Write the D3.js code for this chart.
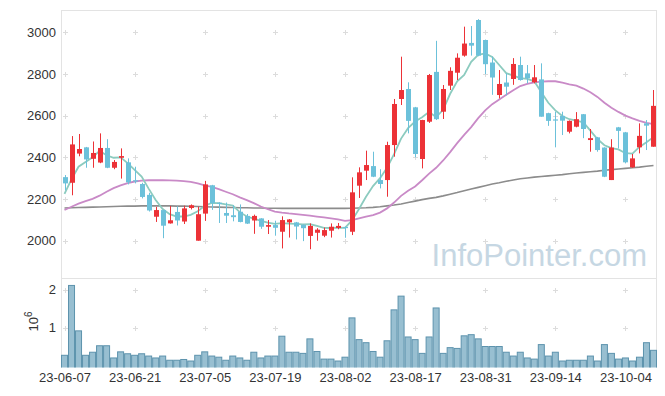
<!DOCTYPE html>
<html>
<head>
<meta charset="utf-8">
<script src="https://cdn.jsdelivr.net/npm/d3@7"></script>
<style>
  body { margin: 0; background: #fff; }
  svg { display: block; font-family: "Liberation Sans", Arial, sans-serif; }
</style>
</head>
<body>
<div id="chart"></div>
<script>
// trading days
var dates = ["23-06-07","23-06-08","23-06-09","23-06-12","23-06-13","23-06-14","23-06-15","23-06-16","23-06-19","23-06-20",
  "23-06-21","23-06-22","23-06-23","23-06-26","23-06-27","23-06-28","23-06-29","23-06-30","23-07-03","23-07-04",
  "23-07-05","23-07-06","23-07-07","23-07-10","23-07-11","23-07-12","23-07-13","23-07-14","23-07-17","23-07-18",
  "23-07-19","23-07-20","23-07-21","23-07-24","23-07-25","23-07-26","23-07-27","23-07-28","23-07-31","23-08-01",
  "23-08-02","23-08-03","23-08-04","23-08-07","23-08-08","23-08-09","23-08-10","23-08-11","23-08-14","23-08-16",
  "23-08-17","23-08-18","23-08-21","23-08-22","23-08-23","23-08-24","23-08-25","23-08-28","23-08-29","23-08-30",
  "23-08-31","23-09-01","23-09-04","23-09-05","23-09-06","23-09-07","23-09-08","23-09-11","23-09-12","23-09-13",
  "23-09-14","23-09-15","23-09-18","23-09-19","23-09-20","23-09-21","23-09-22","23-09-25","23-09-26","23-09-27",
  "23-10-04","23-10-05","23-10-06","23-10-10","23-10-11"];

var openP = [2305,2278,2418,2448,2393,2375,2445,2350,2398,2376,
  2290,2272,2220,2115,2147,2083,2138,2092,2157,2000,
  2130,2266,2182,2133,2122,2139,2119,2097,2107,2067,
  2075,2043,2088,2088,2076,2023,2038,2024,2048,2061,
  2066,2043,2264,2336,2358,2291,2291,2459,2680,2728,
  2640,2392,2571,2810,2619,2744,2806,2888,2949,3059,
  2963,2855,2699,2759,2776,2843,2803,2760,2774,2612,
  2582,2599,2523,2547,2607,2483,2496,2447,2291,2544,
  2520,2352,2448,2563,2451];

var highP = [2315,2502,2512,2450,2476,2515,2487,2387,2443,2395,
  2355,2278,2230,2162,2148,2167,2165,2168,2174,2163,
  2287,2268,2185,2183,2170,2174,2128,2125,2108,2099,
  2096,2117,2104,2090,2078,2083,2060,2063,2083,2085,
  2067,2304,2352,2432,2427,2343,2475,2680,2883,2760,
  2642,2580,2800,2959,2747,2832,2899,3027,3030,3063,
  2965,2883,2819,2803,2876,2883,2843,2843,2851,2614,
  2619,2619,2577,2617,2608,2536,2498,2448,2487,2546,
  2522,2416,2563,2579,2723];

var lowP = [2242,2218,2405,2350,2350,2372,2348,2343,2298,2270,
  2275,2203,2140,2090,2012,2082,2073,2080,2150,2000,
  2095,2148,2085,2085,2093,2088,2080,2033,2057,2032,
  2024,1963,2015,2006,1998,1959,2000,2017,2015,2055,
  2014,2027,2205,2291,2305,2251,2211,2403,2651,2515,
  2400,2347,2565,2579,2584,2723,2771,2883,2888,2885,
  2799,2700,2683,2697,2748,2768,2755,2755,2595,2551,
  2448,2507,2515,2544,2492,2427,2427,2305,2291,2443,
  2371,2350,2419,2435,2451];

var closeP = [2275,2462,2440,2390,2421,2445,2350,2378,2406,2280,
  2285,2210,2145,2147,2072,2098,2097,2155,2170,2127,
  2270,2180,2176,2120,2113,2090,2082,2119,2067,2075,
  2062,2099,2102,2068,2060,2071,2053,2051,2067,2071,
  2063,2232,2328,2363,2307,2272,2459,2656,2723,2575,
  2416,2579,2795,2583,2728,2815,2878,2946,2936,2888,
  2847,2783,2752,2739,2848,2771,2779,2784,2595,2575,
  2577,2576,2575,2583,2536,2492,2435,2307,2447,2527,
  2376,2395,2503,2552,2647];

var volume = [280000,2110000,920000,280000,360000,530000,530000,210000,370000,320000,
  280000,320000,260000,210000,260000,150000,150000,170000,130000,280000,
  370000,260000,230000,150000,260000,210000,150000,360000,210000,260000,
  260000,780000,360000,360000,330000,710000,380000,180000,180000,130000,
  230000,1260000,690000,610000,380000,230000,660000,1470000,1830000,760000,
  690000,330000,760000,1520000,330000,480000,460000,790000,820000,710000,
  510000,510000,510000,360000,260000,360000,210000,180000,560000,260000,
  360000,130000,150000,150000,150000,260000,130000,560000,330000,180000,
  210000,130000,230000,610000,410000];

// moving averages
var ma5 = [2225,2295,2355,2378,2400,2431,2410,2398,2400,2372,
  2340,2308,2250,2195,2152,2127,2116,2116,2124,2141,
  2168,2181,2180,2174,2169,2137,2116,2106,2095,2087,
  2081,2084,2082,2081,2078,2079,2071,2062,2061,2063,
  2062,2097,2152,2211,2262,2300,2350,2415,2490,2540,
  2572,2592,2618,2593,2628,2705,2765,2795,2858,2892,
  2899,2882,2843,2804,2792,2780,2776,2765,2712,2662,
  2625,2598,2583,2576,2568,2528,2488,2458,2444,2438,
  2420,2418,2450,2472,2497];

var ma20 = [2147,2163,2178,2190,2201,2216,2235,2252,2265,2276,
  2284,2288,2290,2290,2290,2289,2288,2286,2282,2275,
  2266,2258,2247,2235,2223,2208,2195,2180,2164,2151,
  2140,2135,2131,2128,2124,2120,2116,2112,2107,2102,
  2095,2099,2107,2115,2123,2135,2155,2183,2215,2240,
  2260,2290,2322,2350,2385,2425,2468,2508,2545,2588,
  2625,2655,2678,2700,2722,2742,2752,2760,2763,2765,
  2765,2758,2750,2744,2730,2712,2690,2662,2638,2618,
  2600,2587,2575,2565,2559];

var ma120 = [2157,2158,2159,2160,2161,2162,2163,2164,2165,2166,
  2166,2167,2167,2167,2167,2167,2166,2166,2165,2164,
  2163,2162,2161,2160,2159,2158,2158,2157,2157,2156,
  2156,2155,2155,2155,2155,2155,2155,2155,2155,2155,
  2155,2156,2157,2158,2160,2163,2167,2171,2176,2183,
  2190,2197,2203,2208,2215,2223,2231,2240,2248,2256,
  2264,2272,2278,2285,2291,2297,2301,2305,2308,2311,
  2314,2317,2321,2325,2328,2331,2334,2338,2341,2344,
  2347,2350,2353,2357,2361];

var priceTicks = [2000, 2200, 2400, 2600, 2800, 3000];
var volumeTicks = [1000000, 2000000];
var dateTicks = ["23-06-07","23-06-21","23-07-05","23-07-19","23-08-02","23-08-17","23-08-31","23-09-14","23-10-04"];

var width = 665,
    height = 396;

var left = 61, right = 657,
    top1 = 10, bottom1 = 278,
    top2 = 278, bottom2 = 367.5;

var upColor = "#ec3237",
    downColor = "#6cc1da";

var svg = d3.select("#chart")
  .append("svg")
    .attr("width", width)
    .attr("height", height);

var x = d3.scalePoint()
  .domain(dates)
  .range([left, right])
  .padding(0.5);

var y = d3.scaleLinear()
  .domain([1821, 3107])
  .range([bottom1, top1]);

var yv = d3.scaleLinear()
  .domain([-40000, 2305000])
  .range([bottom2, top2]);

var step = x.step();

svg.append("defs").append("clipPath").attr("id", "clipMain")
  .append("rect").attr("x", left).attr("y", top1).attr("width", right - left).attr("height", bottom1 - top1);
svg.select("defs").append("clipPath").attr("id", "clipVol")
  .append("rect").attr("x", left).attr("y", top2).attr("width", right - left).attr("height", bottom2 - top2);

// panel frames
var frame = svg.append("g").attr("stroke", "#e3e3e3").attr("fill", "none");
frame.append("line").attr("x1", left + 0.5).attr("x2", left + 0.5).attr("y1", top1).attr("y2", bottom2);
frame.append("line").attr("x1", right - 0.5).attr("x2", right - 0.5).attr("y1", top1).attr("y2", bottom2);
frame.append("line").attr("x1", left).attr("x2", right).attr("y1", top1 + 0.5).attr("y2", top1 + 0.5);
frame.append("line").attr("x1", left).attr("x2", right).attr("y1", bottom1 + 0.5).attr("y2", bottom1 + 0.5);

// little "+" grid marks
function crosses(g, xs, ys) {
  xs.forEach(function(d) {
    ys.forEach(function(v) {
      var cx = Math.round(x(d)) + 0.5, cy = Math.round(v) + 0.5;
      g.append("path")
        .attr("d", "M" + (cx - 2.5) + "," + cy + "H" + (cx + 2.5) + "M" + cx + "," + (cy - 2.5) + "V" + (cy + 2.5))
        .attr("stroke", "#dcdcdc")
        .attr("stroke-width", 1);
    });
  });
}
var grid = svg.append("g");
crosses(grid, dateTicks, priceTicks.map(function(d) { return y(d); }));
crosses(grid, dateTicks, volumeTicks.map(function(d) { return yv(d); }));

// watermark
svg.append("text")
  .attr("x", 647)
  .attr("y", 266)
  .attr("text-anchor", "end")
  .attr("font-size", 31)
  .attr("fill", "#c6d7e3")
  .text("InfoPointer.com");

var main = svg.append("g").attr("clip-path", "url(#clipMain)");

// moving average lines
function maLine(vals) {
  return d3.line()
    .x(function(d, i) { return x(dates[i]); })
    .y(function(d) { return y(d); })(vals);
}
main.append("path").attr("d", maLine(ma120)).attr("fill", "none").attr("stroke", "#8c8c8c").attr("stroke-width", 1.6);
main.append("path").attr("d", maLine(ma20)).attr("fill", "none").attr("stroke", "#c98ac7").attr("stroke-width", 1.8);
main.append("path").attr("d", maLine(ma5)).attr("fill", "none").attr("stroke", "#8ccbbf").attr("stroke-width", 1.8);

// candles
var candles = main.selectAll(".candle")
  .data(dates)
  .enter()
  .append("g")
  .attr("class", "candle");

candles.append("line")
  .attr("x1", function(d) { return Math.round(x(d)) + 0.5; })
  .attr("x2", function(d) { return Math.round(x(d)) + 0.5; })
  .attr("y1", function(d, i) { return y(highP[i]); })
  .attr("y2", function(d, i) { return y(lowP[i]); })
  .attr("stroke", function(d, i) { return closeP[i] >= openP[i] ? upColor : downColor; })
  .attr("stroke-width", 1);

candles.append("rect")
  .attr("x", function(d) { return Math.round(x(d)) - 2; })
  .attr("width", 5)
  .attr("y", function(d, i) { return y(Math.max(openP[i], closeP[i])); })
  .attr("height", function(d, i) { return Math.max(1.2, Math.abs(y(openP[i]) - y(closeP[i]))); })
  .attr("fill", function(d, i) { return closeP[i] >= openP[i] ? upColor : downColor; });

// volume bars
svg.append("g")
  .attr("clip-path", "url(#clipVol)")
  .selectAll("rect")
  .data(volume)
  .enter()
  .append("rect")
  .attr("x", function(d, i) { return x(dates[i]) - step / 2 + 0.5; })
  .attr("width", step - 1)
  .attr("y", function(d) { return yv(d); })
  .attr("height", function(d) { return bottom2 + 2 - yv(d); })
  .attr("fill", "#98bfd1")
  .attr("stroke", "#5d93ad")
  .attr("stroke-width", 1);

// axes
var yAxis = svg.append("g")
  .attr("transform", "translate(" + left + ",0)")
  .call(d3.axisLeft(y).tickValues(priceTicks).tickSize(0).tickPadding(5).tickFormat(d3.format("d")));

var vAxis = svg.append("g")
  .attr("transform", "translate(" + left + ",0)")
  .call(d3.axisLeft(yv).tickValues(volumeTicks).tickSize(0).tickPadding(5)
    .tickFormat(function(d) { return d / 1000000; }));

var xAxis = svg.append("g")
  .attr("transform", "translate(0," + bottom2 + ")")
  .call(d3.axisBottom(x).tickValues(dateTicks).tickSize(0).tickPadding(5));

[yAxis, vAxis, xAxis].forEach(function(g) {
  g.select(".domain").remove();
  g.selectAll("text")
    .attr("fill", "#333")
    .style("font-size", "13px")
    .style("font-family", "'Liberation Sans', Arial, sans-serif");
});

// 10^6 label of the volume axis
var expLabel = svg.append("text")
  .attr("transform", "translate(37.5,331.5) rotate(-90)")
  .attr("font-size", 13)
  .attr("fill", "#333")
  .text("10");
expLabel.append("tspan")
  .attr("dy", -6)
  .attr("font-size", 10)
  .text("6");
</script>
</body>
</html>
